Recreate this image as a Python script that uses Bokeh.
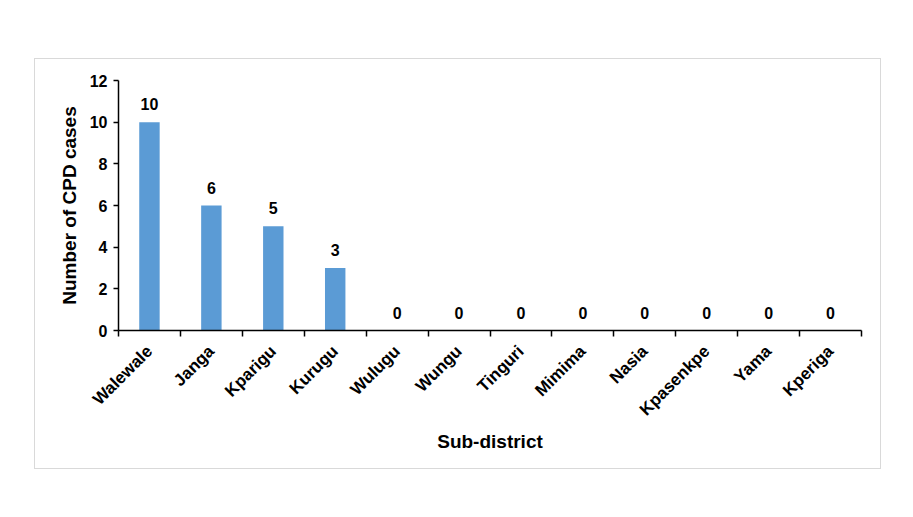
from math import pi

from bokeh.plotting import figure
from bokeh.models import ColumnDataSource, Range1d, FixedTicker
from bokeh.core.properties import value
from bokeh.embed import file_html
from bokeh.resources import INLINE

# datos
subdistritos = ["Walewale", "Janga", "Kparigu", "Kurugu", "Wulugu", "Wungu",
                "Tinguri", "Mimima", "Nasia", "Kpasenkpe", "Yama", "Kperiga"]
casos = [10, 6, 5, 3, 0, 0, 0, 0, 0, 0, 0, 0]
ticks_y = [0, 2, 4, 6, 8, 10, 12]

FUENTE = "Liberation Sans"

# posiciones: centro de cada categoria y sus bordes
centros = [i + 0.5 for i in range(len(subdistritos))]
bordes = list(range(len(subdistritos) + 1))

datos = ColumnDataSource(data={
    "x": centros,
    "casos": casos,
    "etiqueta": [str(c) for c in casos],
})

p = figure(
    width=847, height=411,
    x_range=Range1d(0, len(subdistritos)),
    y_range=Range1d(0, 12),
    x_axis_label="Sub-district",
    y_axis_label="Number of CPD cases",
    output_backend="svg",
    toolbar_location=None,
    min_border_left=83, min_border_right=21,
    min_border_top=21, min_border_bottom=140,
)
p.margin = (58, 0, 0, 34)
p.styles = {"border": "1px solid #d9d9d9"}

# barras
p.vbar(x="x", top="casos", width=0.33, source=datos,
       fill_color="#5B9BD5", line_color=None)

# etiquetas de valor
p.text(x="x", y="casos", text="etiqueta", source=datos,
       text_align="center", text_baseline="alphabetic", y_offset=-18,
       text_font=value(FUENTE), text_font_style="bold",
       text_font_size="16px", text_color="black")

# estilo general
p.grid.grid_line_color = None
p.outline_line_color = None
p.background_fill_color = "white"
p.border_fill_color = "white"

for eje in (p.xaxis[0], p.yaxis[0]):
    eje.axis_line_color = "black"
    eje.axis_line_width = 1.5
    eje.major_label_text_font = FUENTE
    eje.major_label_text_font_style = "bold"
    eje.major_label_text_font_size = "16px"
    eje.major_label_text_color = "black"
    eje.axis_label_text_font = FUENTE
    eje.axis_label_text_font_style = "bold"
    eje.axis_label_text_font_size = "19px"
    eje.axis_label_text_color = "black"

# eje x: etiquetas en el centro, marcas en los bordes
p.xaxis.ticker = FixedTicker(ticks=centros, minor_ticks=bordes)
p.xaxis.major_label_overrides = {c: n for c, n in zip(centros, subdistritos)}
p.xaxis.major_label_orientation = pi / 4
p.xaxis.major_label_text_font_size = "17px"
p.xaxis.major_tick_line_color = None
p.xaxis.minor_tick_line_color = "black"
p.xaxis.minor_tick_line_width = 1.5
p.xaxis.minor_tick_in = 0
p.xaxis.minor_tick_out = 6
p.xaxis.major_label_standoff = 12
p.xaxis.axis_label_standoff = 2

# eje y
p.yaxis.ticker = FixedTicker(ticks=ticks_y)
p.yaxis.major_tick_line_color = "black"
p.yaxis.major_tick_line_width = 1.5
p.yaxis.major_tick_in = 0
p.yaxis.major_tick_out = 5
p.yaxis.minor_tick_line_color = None
p.yaxis.major_label_standoff = 6
p.yaxis.axis_label_standoff = 7

open("out.html", "w").write(file_html(p, INLINE))
